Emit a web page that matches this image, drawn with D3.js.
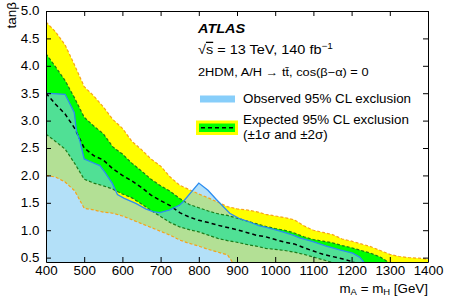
<!DOCTYPE html>
<html>
<head>
<meta charset="utf-8">
<script src="https://cdn.jsdelivr.net/npm/d3@7"></script>
<style>
  body { margin: 0; background: #fff; }
  svg { display: block; font-family: "Liberation Sans", Arial, Helvetica, sans-serif; }
</style>
</head>
<body>
<svg id="chart" width="449" height="302"></svg>
<script>
// mass points (GeV) used by the expected limit and its bands
var massGrid = [400, 425, 450, 475, 500, 525, 550, 575, 600, 625, 650, 675, 700, 725, 750, 775,
  800, 825, 850, 875, 900, 925, 950, 975, 1000, 1025, 1050, 1075, 1100, 1125, 1150, 1175,
  1200, 1225, 1250, 1275, 1300, 1325, 1350, 1375, 1400];

// tan(beta) (values under 0.42 lie below the frame)
var plus2 = [4.80, 4.62, 4.38, 4.01, 3.62, 3.45, 3.25, 3.02, 2.86, 2.62, 2.47, 2.30, 2.17, 1.97, 1.82, 1.74,
  1.66, 1.59, 1.51, 1.43, 1.39, 1.37, 1.34, 1.29, 1.26, 1.23, 1.19, 1.08, 1.00, 0.96, 0.92, 0.84,
  0.80, 0.75, 0.70, 0.63, 0.56, 0.52, 0.50, 0.49, 0.47];
var plus1 = [4.22, 3.98, 3.73, 3.41, 3.06, 2.90, 2.76, 2.52, 2.39, 2.22, 2.08, 1.93, 1.81, 1.71, 1.58, 1.47,
  1.41, 1.35, 1.30, 1.27, 1.22, 1.17, 1.12, 1.07, 1.03, 1.00, 0.95, 0.88, 0.83, 0.80, 0.77, 0.72,
  0.68, 0.63, 0.58, 0.51, 0.40, 0.32, 0.28, 0.25, 0.22];
var expected = [3.50, 3.30, 3.12, 2.86, 2.50, 2.36, 2.28, 2.12, 2.00, 1.90, 1.78, 1.64, 1.54, 1.45, 1.32, 1.24,
  1.18, 1.14, 1.09, 1.05, 1.01, 0.96, 0.91, 0.88, 0.83, 0.78, 0.75, 0.68, 0.62, 0.56, 0.52, 0.48,
  0.43, 0.36, 0.30, 0.25, 0.22, 0.20, 0.18, 0.16, 0.15];
var minus1 = [2.75, 2.62, 2.48, 2.22, 1.93, 1.86, 1.81, 1.75, 1.66, 1.59, 1.48, 1.36, 1.25, 1.14, 1.06, 1.01,
  0.97, 0.91, 0.85, 0.81, 0.78, 0.74, 0.71, 0.67, 0.65, 0.63, 0.60, 0.56, 0.51, 0.46, 0.41, 0.34,
  0.30, 0.26, 0.23, 0.20, 0.18, 0.16, 0.14, 0.12, 0.10];
var minus2 = [2.00, 1.97, 1.88, 1.72, 1.40, 1.37, 1.33, 1.31, 1.26, 1.19, 1.12, 1.05, 0.98, 0.91, 0.82, 0.76,
  0.71, 0.65, 0.60, 0.55, 0.30, 0.25, 0.22, 0.20, 0.18, 0.16, 0.15, 0.14, 0.13, 0.12, 0.11, 0.10,
  0.10, 0.10, 0.10, 0.10, 0.10, 0.10, 0.10, 0.10, 0.10];

// observed limit has its own mass points (sharper features)
var obsMass = [400, 450, 463, 474, 480, 488, 500, 520, 541, 555, 574, 587, 605, 635, 661, 680,
  698, 724, 750, 759, 800, 824, 846, 881, 907, 933, 959, 977, 1020, 1047, 1064, 1099,
  1134, 1169, 1203, 1221, 1240];
var obsTanb = [3.50, 3.48, 3.30, 3.15, 2.80, 2.65, 2.30, 2.24, 2.18, 2.05, 1.85, 1.65, 1.58, 1.49, 1.39, 1.34,
  1.32, 1.37, 1.46, 1.52, 1.86, 1.73, 1.56, 1.31, 1.21, 1.15, 1.08, 1.05, 0.97, 0.91, 0.86, 0.79,
  0.71, 0.64, 0.58, 0.51, 0.35];

var xTicks = [400, 500, 600, 700, 800, 900, 1000, 1100, 1200, 1300, 1400];
var yTicks = [0.5, 1.0, 1.5, 2.0, 2.5, 3.0, 3.5, 4.0, 4.5, 5.0];

// note: "top" is taken by window.top, so use other names
var plotL = 46, plotR = 428, plotT = 11, plotB = 262;
var stretch = 1.115;  // the picture is a bit wider than tall, text looks stretched

var svg = d3.select('#chart');

var x = d3.scaleLinear().domain([400, 1400]).range([plotL, plotR]);
var y = d3.scaleLinear().domain([0.42, 5.0]).range([plotB, plotT]);

svg.append('clipPath').attr('id', 'plotArea')
  .append('rect')
  .attr('x', plotL).attr('y', plotT)
  .attr('width', plotR - plotL).attr('height', plotB - plotT);

var plot = svg.append('g').attr('clip-path', 'url(#plotArea)');

function band(lo, hi) {
  return d3.area()
    .x(function (d, i) { return x(massGrid[i]); })
    .y0(function (d, i) { return y(lo[i]); })
    .y1(function (d, i) { return y(hi[i]); });
}

function gridLine(vals) {
  return d3.line()
    .x(function (d, i) { return x(massGrid[i]); })
    .y(function (d, i) { return y(vals[i]); });
}

plot.append('path').datum(massGrid).attr('d', band(minus2, plus2)).attr('fill', '#ffff00');
plot.append('path').datum(massGrid).attr('d', band(minus1, plus1)).attr('fill', '#00ff00');

// observed excluded region, semi transparent so the bands show through
var obsArea = d3.area()
  .x(function (d, i) { return x(obsMass[i]); })
  .y0(plotB)
  .y1(function (d, i) { return y(obsTanb[i]); });
plot.append('path').datum(obsMass).attr('d', obsArea)
  .attr('fill', 'rgb(131,204,243)').attr('fill-opacity', 0.61);

[[plus2, '#f7a21b', '3,2'], [minus2, '#f7a21b', '3,2'],
 [plus1, '#1c7d1c', '3,2'], [minus1, '#1c7d1c', '3,2']].forEach(function (s) {
  plot.append('path').datum(massGrid)
    .attr('d', gridLine(s[0]))
    .attr('fill', 'none').attr('stroke', s[1]).attr('stroke-width', 1.2)
    .attr('stroke-dasharray', s[2]);
});

plot.append('path').datum(massGrid)
  .attr('d', gridLine(expected))
  .attr('fill', 'none').attr('stroke', '#000').attr('stroke-width', 1.5)
  .attr('stroke-dasharray', '4,3');

var obsLine = d3.line()
  .x(function (d, i) { return x(obsMass[i]); })
  .y(function (d, i) { return y(obsTanb[i]); });
plot.append('path').datum(obsMass).attr('d', obsLine)
  .attr('fill', 'none').attr('stroke', '#2b8cf0').attr('stroke-width', 1.3);

// frame + ticks, ticks point inwards
function styleAxis(g) {
  g.select('.domain').attr('stroke', '#000').attr('stroke-width', 1);
  g.selectAll('.tick line').attr('stroke', '#000').attr('stroke-width', 1);
  g.selectAll('text').attr('font-family', '"Liberation Sans", Arial, Helvetica, sans-serif')
    .attr('font-size', 12).attr('fill', '#000')
    .attr('transform', 'scale(' + stretch + ',1)');
}

svg.append('g').attr('transform', 'translate(0,' + plotB + ')')
  .call(d3.axisBottom(x).tickValues(xTicks).tickSizeInner(-5).tickSizeOuter(0).tickPadding(4)
    .tickFormat(d3.format('d')))
  .call(styleAxis);

svg.append('g').attr('transform', 'translate(' + plotL + ',0)')
  .call(d3.axisLeft(y).tickValues(yTicks).tickSizeInner(-5).tickSizeOuter(0).tickPadding(6)
    .tickFormat(d3.format('.1f')))
  .call(styleAxis);

svg.append('g').attr('transform', 'translate(0,' + plotT + ')')
  .call(d3.axisTop(x).tickValues(xTicks).tickSizeInner(-5).tickSizeOuter(0).tickFormat(''))
  .call(styleAxis);

svg.append('g').attr('transform', 'translate(' + plotR + ',0)')
  .call(d3.axisRight(y).tickValues(yTicks).tickSizeInner(-5).tickSizeOuter(0).tickFormat(''))
  .call(styleAxis);

// axis titles
var xTitle = svg.append('text')
  .attr('transform', 'translate(' + plotR + ',293) scale(' + stretch + ',1)')
  .attr('text-anchor', 'end').attr('font-size', 12);
xTitle.append('tspan').text('m');
xTitle.append('tspan').attr('font-size', 8.5).attr('dy', 2).text('A');
xTitle.append('tspan').attr('dy', -2).text(' = m');
xTitle.append('tspan').attr('font-size', 8.5).attr('dy', 2).text('H');
xTitle.append('tspan').attr('dy', -2).text(' [GeV]');

svg.append('text')
  .attr('transform', 'translate(16,2) rotate(-90)')
  .attr('text-anchor', 'end').attr('font-size', 13.5)
  .text('tanβ');

// labels + legend
function label(px, py, size) {
  return svg.append('text')
    .attr('transform', 'translate(' + px + ',' + py + ') scale(' + stretch + ',1)')
    .attr('font-size', size);
}

label(198, 33, 13).attr('font-weight', 'bold').attr('font-style', 'italic').text('ATLAS');

var energy = label(198, 54, 13);
energy.append('tspan').text('√');
energy.append('tspan').style('text-decoration', 'overline').text('s');
energy.append('tspan').text(' = 13 TeV, 140 fb');
energy.append('tspan').attr('font-size', 9).attr('dy', -5).text('−1');

label(198, 76, 11.5).text('2HDM, A/H → tt\u0304, cos(β−α) = 0');

svg.append('rect').attr('x', 200).attr('y', 95.5).attr('width', 35).attr('height', 7)
  .attr('fill', 'rgb(135,206,250)');
label(243, 102.5, 12).text('Observed 95% CL exclusion');

svg.append('rect').attr('x', 196).attr('y', 120.5).attr('width', 42).attr('height', 14.5)
  .attr('fill', '#ffff00');
svg.append('rect').attr('x', 199).attr('y', 123.5).attr('width', 36).attr('height', 8.5)
  .attr('fill', '#00ff00');
svg.append('line').attr('x1', 201).attr('x2', 234).attr('y1', 127.7).attr('y2', 127.7)
  .attr('stroke', '#000').attr('stroke-width', 1.5).attr('stroke-dasharray', '4,3');
label(243, 124, 12).text('Expected 95% CL exclusion');
label(243, 138.5, 12).text('(±1σ and ±2σ)');
</script>
</body>
</html>
